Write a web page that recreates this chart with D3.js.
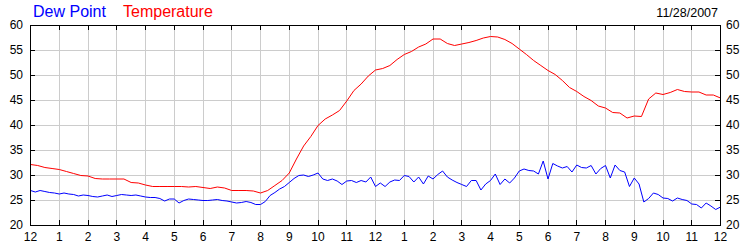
<!DOCTYPE html>
<html>
<head>
<meta charset="utf-8">
<script src="https://cdn.jsdelivr.net/npm/d3@7"></script>
<style>
  body { margin: 0; background: #fff; }
  svg { display: block; font-family: Arial, "Liberation Sans", sans-serif; }
  .grid line { stroke: #cccccc; stroke-width: 1; shape-rendering: crispEdges; }
  .axis path, .axis line { stroke: #000; shape-rendering: crispEdges; }
  .axis text { font-size: 12px; fill: #000; font-family: Arial, "Liberation Sans", sans-serif; }
</style>
</head>
<body>
<div id="chart"></div>
<script>
// readings every 15 minutes, midnight to midnight
var tempStep = 0.25
var temperature = [
  32.2, 32.0, 31.6, 31.4, 31.2, 30.8, 30.4, 30.0,
  29.9, 29.4, 29.3, 29.3, 29.3, 29.3, 28.6, 28.5,
  28.1, 27.8, 27.8, 27.8, 27.8, 27.8, 27.7, 27.8,
  27.6, 27.4, 27.7, 27.5, 27.0, 27.0, 27.0, 26.9,
  26.5, 27.0, 28.0, 29.0, 30.5, 33.3, 35.9, 37.8,
  40.0, 41.3, 42.1, 43.0, 44.9, 47.0, 48.3, 49.9,
  51.1, 51.4, 52.0, 53.2, 54.2, 54.8, 55.7, 56.3,
  57.3, 57.3, 56.4, 56.0, 56.3, 56.6, 57.0, 57.5,
  57.8, 57.7, 57.2, 56.4, 55.3, 54.2, 53.0, 52.0,
  51.0, 50.2, 49.0, 47.6, 46.8, 45.8, 45.0, 43.9,
  43.5, 42.6, 42.5, 41.5, 41.9, 41.8, 45.3, 46.5,
  46.2, 46.6, 47.2, 46.8, 46.7, 46.7, 46.1, 46.1,
  45.5
]

// readings every 10 minutes
var dewStep = 1 / 6
var dewPoint = [
  27.0, 26.7, 27.0, 26.8, 26.6, 26.5,
  26.3, 26.5, 26.3, 26.2, 25.9, 26.1,
  26.0, 25.8, 25.7, 25.9, 26.1, 25.8,
  26.0, 26.2, 26.1, 26.0, 26.1, 25.9,
  25.7, 25.6, 25.6, 25.4, 24.9, 25.3,
  25.3, 24.5, 25.0, 25.3, 25.2, 25.1,
  25.0, 25.0, 25.1, 25.2, 25.0, 24.9,
  24.7, 24.5, 24.6, 24.8, 24.6, 24.2,
  24.2, 24.8, 26.0, 26.6, 27.3, 27.8,
  28.6, 29.4, 30.0, 30.1, 29.8, 30.1,
  30.5, 29.3, 29.0, 29.3, 28.9, 28.2,
  28.9, 29.0, 28.6, 29.0, 28.7, 29.7,
  27.8, 28.5, 27.8, 28.7, 29.1, 29.0,
  30.0, 29.8, 28.7, 29.7, 28.3, 29.9,
  29.3, 30.2, 30.9, 29.7, 29.1, 28.6,
  28.2, 27.8, 29.0, 29.0, 27.1, 28.3,
  29.0, 30.3, 28.2, 29.3, 28.5, 29.5,
  30.9, 31.3, 31.0, 30.9, 30.3, 32.9,
  29.3, 32.4, 31.9, 31.5, 31.8, 30.7,
  32.1, 31.6, 31.5, 32.0, 30.3, 31.4,
  32.0, 29.5, 32.1, 31.0, 30.7, 27.8,
  29.5, 28.3, 24.7, 25.4, 26.5, 26.2,
  25.5, 25.4, 24.9, 25.5, 25.2, 25.0,
  24.3, 24.2, 23.5, 24.5, 23.9, 23.2,
  23.7
]

var hourLabels = ['12', '1', '2', '3', '4', '5', '6', '7', '8', '9', '10', '11',
                  '12', '1', '2', '3', '4', '5', '6', '7', '8', '9', '10', '11', '12']
var yTicks = [20, 25, 30, 35, 40, 45, 50, 55, 60]
var dateLabel = '11/28/2007'

var width = 750
var height = 250
var margin = {top: 25, left: 30, right: 30, bottom: 25}

var svg = d3.select('#chart')
  .append('svg')
  .attr('width', width)
  .attr('height', height)

var x = d3.scaleLinear()
  .domain([0, 24])
  .range([margin.left, width - margin.right])

var y = d3.scaleLinear()
  .domain([20, 60])
  .range([height - margin.bottom, margin.top])

var hours = d3.range(0, 25)

// grid
var grid = svg.append('g').attr('class', 'grid')
grid.selectAll('.v')
  .data(hours.slice(1, -1))
  .enter().append('line')
  .attr('x1', function(d) { return x(d) + 0.5 })
  .attr('x2', function(d) { return x(d) + 0.5 })
  .attr('y1', y(60))
  .attr('y2', y(20))
grid.selectAll('.h')
  .data(yTicks.slice(1, -1))
  .enter().append('line')
  .attr('x1', x(0))
  .attr('x2', x(24))
  .attr('y1', function(d) { return y(d) + 0.5 })
  .attr('y2', function(d) { return y(d) + 0.5 })

// lines
var line = function(step) {
  return d3.line()
    .x(function(d, i) { return x(i * step) + 0.5 })
    .y(function(d) { return y(d) + 0.5 })
}

svg.append('path')
  .datum(dewPoint)
  .attr('fill', 'none')
  .attr('stroke', '#0000ff')
  .attr('stroke-width', 1)
  .attr('d', line(dewStep))

svg.append('path')
  .datum(temperature)
  .attr('fill', 'none')
  .attr('stroke', '#ff0000')
  .attr('stroke-width', 1)
  .attr('d', line(tempStep))

// axes, ticks point inward
svg.append('g')
  .attr('class', 'axis')
  .attr('transform', 'translate(0,' + y(20) + ')')
  .call(d3.axisBottom(x)
    .tickValues(hours)
    .tickSizeInner(-5)
    .tickSizeOuter(0)
    .tickPadding(7)
    .tickFormat(function(d) { return hourLabels[d] }))

svg.append('g')
  .attr('class', 'axis')
  .attr('transform', 'translate(0,' + y(60) + ')')
  .call(d3.axisTop(x)
    .tickValues(hours)
    .tickSizeInner(-5)
    .tickSizeOuter(0)
    .tickFormat(''))

svg.append('g')
  .attr('class', 'axis')
  .attr('transform', 'translate(' + x(0) + ',0)')
  .call(d3.axisLeft(y)
    .tickValues(yTicks)
    .tickSizeInner(-5)
    .tickSizeOuter(0)
    .tickPadding(7))

svg.append('g')
  .attr('class', 'axis')
  .attr('transform', 'translate(' + x(24) + ',0)')
  .call(d3.axisRight(y)
    .tickValues(yTicks)
    .tickSizeInner(-5)
    .tickSizeOuter(0)
    .tickPadding(6))

// legend + date
svg.append('text')
  .attr('x', 33)
  .attr('y', 17)
  .attr('font-size', '16px')
  .attr('fill', '#0000ff')
  .text('Dew Point')

svg.append('text')
  .attr('x', 123)
  .attr('y', 17)
  .attr('font-size', '16px')
  .attr('fill', '#ff0000')
  .text('Temperature')

svg.append('text')
  .attr('x', 718)
  .attr('y', 17)
  .attr('font-size', '12.5px')
  .attr('text-anchor', 'end')
  .attr('fill', '#000')
  .text(dateLabel)
</script>
</body>
</html>
